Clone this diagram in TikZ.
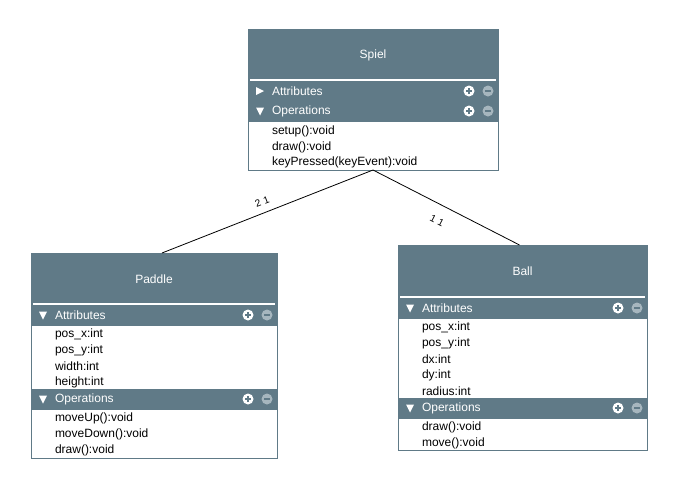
\documentclass[tikz,border=0pt]{standalone}
\usepackage{fontspec}
\setmainfont{Liberation Sans}
\usetikzlibrary{positioning,calc}
\definecolor{umlblue}{RGB}{96,122,135}
\definecolor{umlgrey}{RGB}{166,182,190}

\begin{document}
\begin{tikzpicture}[x=1pt,y=-1pt,
    every node/.style={font=\fontsize{12}{14}\selectfont, inner sep=0pt, outer sep=0pt},
    classhead/.style={rectangle, anchor=north west, fill=umlblue, draw=umlblue, text=white, minimum height=52pt},
    sectionrow/.style={rectangle, anchor=north west, fill=umlblue, draw=umlblue, minimum height=20pt},
    classbody/.style={rectangle, anchor=north west, fill=white, draw=umlblue},
    rowlabel/.style={anchor=west, text=white},
    member/.style={anchor=west, text=black},
    sepline/.style={white, line width=2pt},
    plusicon/.style={circle, fill=white, minimum size=11pt,
      path picture={\draw[umlblue, line width=1.6pt]
        ([xshift=-3pt]path picture bounding box.center) -- ([xshift=3pt]path picture bounding box.center)
        ([yshift=-3pt]path picture bounding box.center) -- ([yshift=3pt]path picture bounding box.center);}},
    minusicon/.style={circle, fill=umlgrey, minimum size=11pt,
      path picture={\draw[umlblue, line width=1.6pt]
        ([xshift=-3pt]path picture bounding box.center) -- ([xshift=3pt]path picture bounding box.center);}},
    assoc/.style={black, line width=0.8pt},
    multlabel/.style={font=\fontsize{10}{12}\selectfont}
  ]
    \useasboundingbox[fill=white] (0,0) rectangle (679,488);

    % Spiel class
    \node[classhead, minimum width=250pt] (spiel) at (248,29) {Spiel};
    \node[sectionrow, minimum width=250pt] (spielattr) at (248,81) {};
    \node[sectionrow, minimum width=250pt] (spielops) at (248,101) {};
    \node[classbody, minimum width=250pt, minimum height=49pt] (spielbody) at (248,121) {};
    \draw[sepline] ([xshift=2pt,yshift=1pt]spiel.south west) -- ([xshift=-2pt,yshift=1pt]spiel.south east);

    \fill[white] ([xshift=8pt,yshift=4pt]spielattr.west) -- ++(8,4) -- ++(-8,4) -- cycle;
    \node[rowlabel] (spielattrlbl) at ([xshift=24pt]spielattr.west) {Attributes};
    \node[plusicon] (spielattrplus) at ([xshift=-29pt]spielattr.east) {};
    \node[minusicon] (spielattrminus) at ([xshift=-10pt]spielattr.east) {};

    \fill[white] ([xshift=8pt,yshift=3.5pt]spielops.west) -- ++(8,0) -- ++(-4,8) -- cycle;
    \node[rowlabel] (spielopslbl) at ([xshift=24pt]spielops.west) {Operations};
    \node[plusicon] (spielopsplus) at ([xshift=-29pt]spielops.east) {};
    \node[minusicon] (spielopsminus) at ([xshift=-10pt]spielops.east) {};

    \node[member] (spielsetup) at (272,131) {setup():void};
    \node[member] (spieldraw) at (272,147) {draw():void};
    \node[member] (spielkey) at (272,162) {keyPressed(keyEvent):void};

    % Paddle class
    \node[classhead, minimum width=246pt] (paddle) at (31,253) {Paddle};
    \node[sectionrow, minimum width=246pt] (paddleattr) at (31,305) {};
    \node[classbody, minimum width=246pt, minimum height=64pt] (paddleattrbody) at (31,325) {};
    \node[sectionrow, minimum width=246pt] (paddleops) at (31,389) {};
    \node[classbody, minimum width=246pt, minimum height=49pt] (paddleopsbody) at (31,409) {};
    \draw[sepline] ([xshift=2pt,yshift=1pt]paddle.south west) -- ([xshift=-2pt,yshift=1pt]paddle.south east);

    \fill[white] ([xshift=8pt,yshift=3.5pt]paddleattr.west) -- ++(8,0) -- ++(-4,8) -- cycle;
    \node[rowlabel] (paddleattrlbl) at ([xshift=24pt]paddleattr.west) {Attributes};
    \node[plusicon] (paddleattrplus) at ([xshift=-29pt]paddleattr.east) {};
    \node[minusicon] (paddleattrminus) at ([xshift=-10pt]paddleattr.east) {};

    \node[member] (paddleposx) at (55,334) {pos\_x:int};
    \node[member] (paddleposy) at (55,350) {pos\_y:int};
    \node[member] (paddlewidth) at (55,366) {width:int};
    \node[member] (paddleheight) at (55,382) {height:int};

    \fill[white] ([xshift=8pt,yshift=3.5pt]paddleops.west) -- ++(8,0) -- ++(-4,8) -- cycle;
    \node[rowlabel] (paddleopslbl) at ([xshift=24pt]paddleops.west) {Operations};
    \node[plusicon] (paddleopsplus) at ([xshift=-29pt]paddleops.east) {};
    \node[minusicon] (paddleopsminus) at ([xshift=-10pt]paddleops.east) {};

    \node[member] (paddleup) at (55,418) {moveUp():void};
    \node[member] (paddledown) at (55,434) {moveDown():void};
    \node[member] (paddledraw) at (55,450) {draw():void};

    % Ball class
    \node[classhead, minimum width=249pt, minimum height=53pt] (ball) at (398,245) {Ball};
    \node[sectionrow, minimum width=249pt] (ballattr) at (398,298) {};
    \node[classbody, minimum width=249pt, minimum height=80pt] (ballattrbody) at (398,318) {};
    \node[sectionrow, minimum width=249pt] (ballops) at (398,398) {};
    \node[classbody, minimum width=249pt, minimum height=32pt] (ballopsbody) at (398,418) {};
    \draw[sepline] ([xshift=2pt,yshift=1pt]ball.south west) -- ([xshift=-2pt,yshift=1pt]ball.south east);

    \fill[white] ([xshift=8pt,yshift=3.5pt]ballattr.west) -- ++(8,0) -- ++(-4,8) -- cycle;
    \node[rowlabel] (ballattrlbl) at ([xshift=24pt]ballattr.west) {Attributes};
    \node[plusicon] (ballattrplus) at ([xshift=-29pt]ballattr.east) {};
    \node[minusicon] (ballattrminus) at ([xshift=-10pt]ballattr.east) {};

    \node[member] (ballposx) at (422,327) {pos\_x:int};
    \node[member] (ballposy) at (422,343) {pos\_y:int};
    \node[member] (balldx) at (422,359) {dx:int};
    \node[member] (balldy) at (422,375) {dy:int};
    \node[member] (ballradius) at (422,391) {radius:int};

    \fill[white] ([xshift=8pt,yshift=3.5pt]ballops.west) -- ++(8,0) -- ++(-4,8) -- cycle;
    \node[rowlabel] (ballopslbl) at ([xshift=24pt]ballops.west) {Operations};
    \node[plusicon] (ballopsplus) at ([xshift=-29pt]ballops.east) {};
    \node[minusicon] (ballopsminus) at ([xshift=-10pt]ballops.east) {};

    \node[member] (balldraw) at (422,427) {draw():void};
    \node[member] (ballmove) at (422,443) {move():void};

    % Associations
    \draw[assoc] (spielbody.south) -- ([xshift=8pt]paddle.north);
    \draw[assoc] (spielbody.south) -- ([xshift=-3pt]ball.north);

    % Multiplicities
    \node[multlabel, rotate=21] (multpaddle) at (262,202) {2\,\,1};
    \node[multlabel, rotate=-27] (multball) at (437,221) {1\,\,1};
  \end{tikzpicture}
\end{document}
